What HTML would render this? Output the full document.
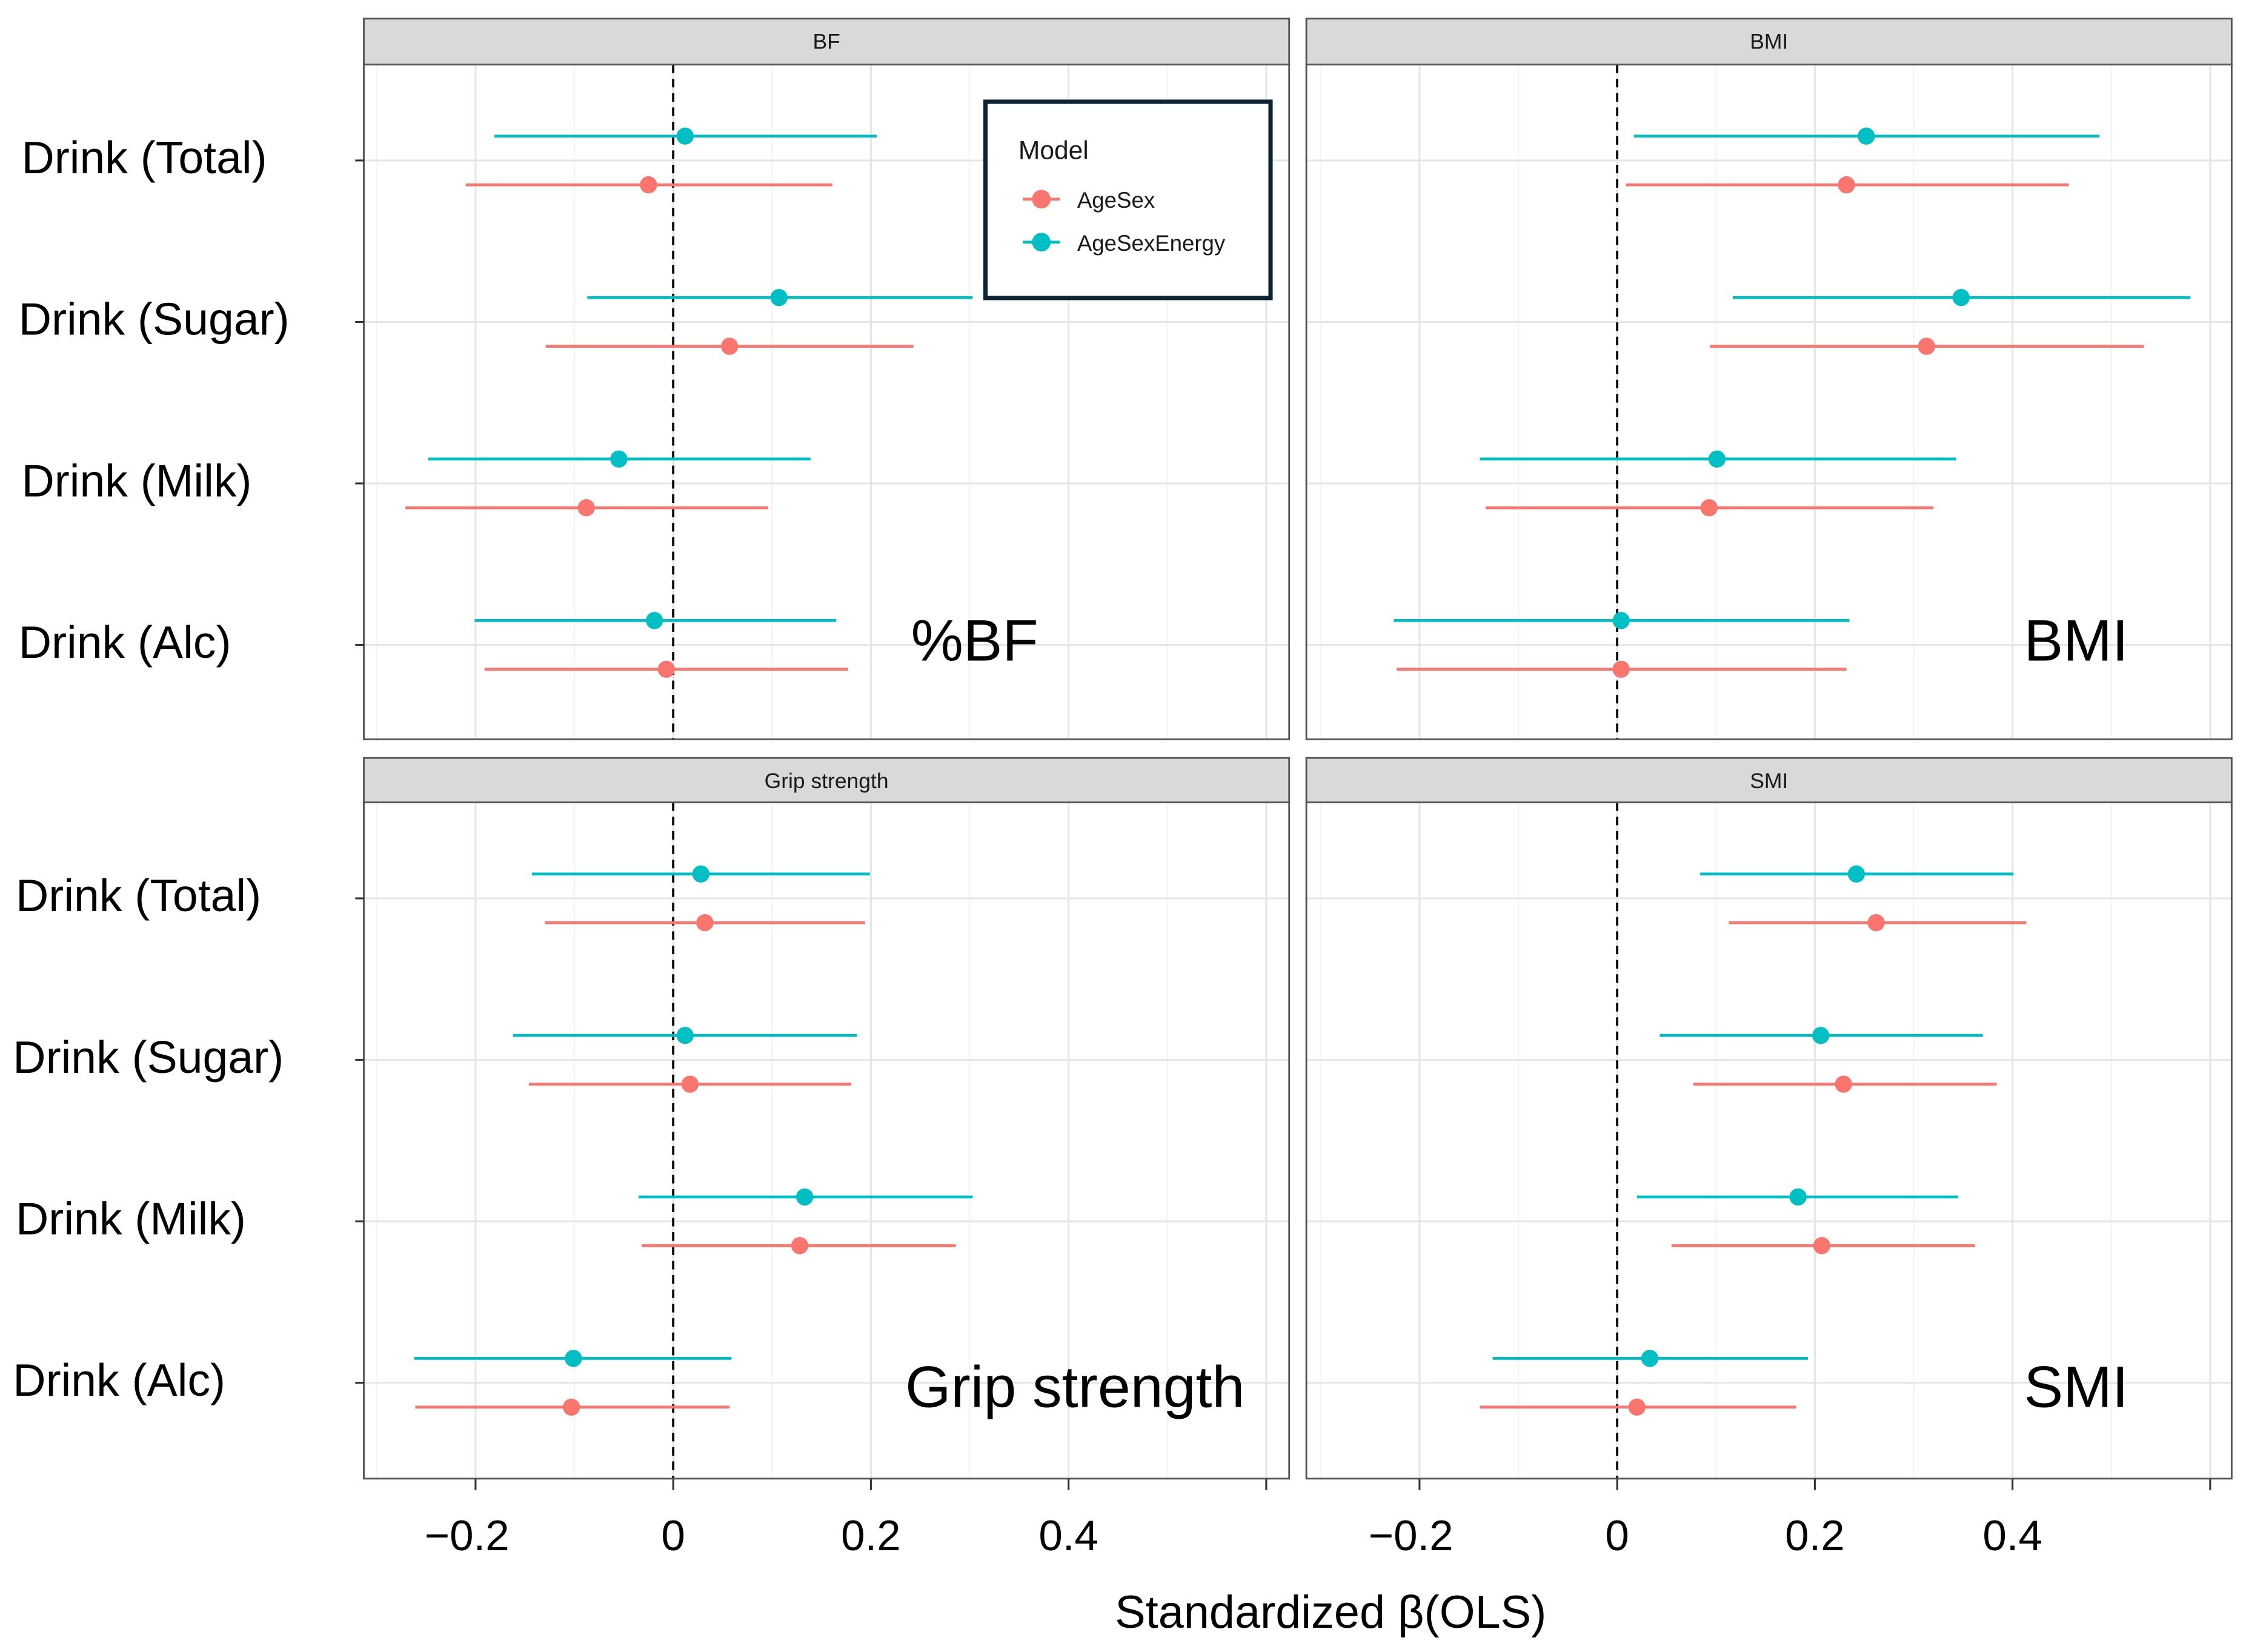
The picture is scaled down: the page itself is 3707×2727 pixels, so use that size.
<!DOCTYPE html>
<html><head><meta charset="utf-8">
<style>
html,body{margin:0;padding:0;background:#fff;}
svg{display:block;font-family:"Liberation Sans",Arial,sans-serif;}
</style></head>
<body>
<svg id="chart" width="3707" height="2727" viewBox="0 0 1568 1153" preserveAspectRatio="none" xmlns="http://www.w3.org/2000/svg">
<g id="root"></g>
</svg>
<script>
const categories = ["Drink (Total)","Drink (Sugar)","Drink (Milk)","Drink (Alc)"];
const panelNames = ["BF","BMI","Grip strength","SMI"];
const panelLabels = ["%BF","BMI","Grip strength","SMI"];
const models = ["AgeSex","AgeSexEnergy"];
const xTicks = [-0.2,0,0.2,0.4];
const xTickLabels = ["\u22120.2","0","0.2","0.4"];
// estimates per panel: [category][model: 0=AgeSex, 1=AgeSexEnergy]
const bfEst = [[-0.025,0.012],[0.057,0.107],[-0.088,-0.055],[-0.007,-0.019]];
const bfLo  = [[-0.210,-0.181],[-0.129,-0.087],[-0.271,-0.248],[-0.191,-0.201]];
const bfHi  = [[0.161,0.206],[0.243,0.303],[0.096,0.139],[0.177,0.165]];
const bmiEst = [[0.232,0.252],[0.313,0.348],[0.093,0.101],[0.004,0.004]];
const bmiLo  = [[0.009,0.017],[0.094,0.117],[-0.133,-0.139],[-0.223,-0.226]];
const bmiHi  = [[0.457,0.488],[0.533,0.580],[0.320,0.343],[0.232,0.235]];
const gripEst = [[0.032,0.028],[0.017,0.012],[0.128,0.133],[-0.103,-0.101]];
const gripLo  = [[-0.130,-0.143],[-0.146,-0.162],[-0.032,-0.035],[-0.261,-0.262]];
const gripHi  = [[0.194,0.199],[0.180,0.186],[0.286,0.303],[0.057,0.059]];
const smiEst = [[0.262,0.242],[0.229,0.206],[0.207,0.183],[0.020,0.033]];
const smiLo  = [[0.113,0.084],[0.077,0.043],[0.055,0.020],[-0.139,-0.126]];
const smiHi  = [[0.414,0.401],[0.384,0.370],[0.362,0.345],[0.181,0.193]];

const est=[bfEst,bmiEst,gripEst,smiEst], lo=[bfLo,bmiLo,gripLo,smiLo], hi=[bfHi,bmiHi,gripHi,smiHi];
const colors=["#F8766D","#00BFC4"];
const NS="http://www.w3.org/2000/svg";
const root=document.getElementById('root');
function mk(tag,attrs,parent,text){const e=document.createElementNS(NS,tag);for(const k in attrs)e.setAttribute(k,attrs[k]);if(text!==undefined)e.textContent=text;(parent||root).appendChild(e);return e;}

const panels=[{x0:254,x1:900,sy:13,y0:45,y1:516,zero:470},{x0:912,x1:1558,sy:13,y0:45,y1:516,zero:1129},
{x0:254,x1:900,sy:529,y0:560,y1:1032,zero:470},{x0:912,x1:1558,sy:529,y0:560,y1:1032,zero:1129}];
const pxPerUnit=690;
const rowStart=[112,627], rowStep=112.7;

panels.forEach((p,pi)=>{
  const g=mk('g',{});
  
  
  const xs=v=>p.zero+v*pxPerUnit;
  const ys=i=>rowStart[pi<2?0:1]+i*rowStep;
  mk('rect',{x:p.x0,y:p.y0,width:p.x1-p.x0,height:p.y1-p.y0,fill:'#fff'},g);
  for(let v=-0.3;v<=0.61;v+=0.2){const x=xs(v);if(x>p.x0&&x<p.x1)mk('line',{x1:x,x2:x,y1:p.y0,y2:p.y1,stroke:'#f2f2f2','stroke-width':0.8},g);}
  for(let v=-0.2;v<=0.61;v+=0.2){const x=xs(v);if(x>p.x0&&x<p.x1)mk('line',{x1:x,x2:x,y1:p.y0,y2:p.y1,stroke:'#e6e6e6','stroke-width':1.3},g);}
  categories.forEach((c,i)=>{mk('line',{x1:p.x0,x2:p.x1,y1:ys(i),y2:ys(i),stroke:'#e6e6e6','stroke-width':1.3},g);});
  const zl=mk('line',{x1:xs(0),x2:xs(0),y1:p.y0,y2:p.y1,stroke:'#000','stroke-width':1.6,'stroke-dasharray':'6 4'},g);
  
  
  categories.forEach((c,i)=>{
    models.forEach((m,mi)=>{
      const y=ys(i)+(mi===0?17:-17);
      const l=mk('line',{x1:xs(lo[pi][i][mi]),x2:xs(hi[pi][i][mi]),y1:y,y2:y,stroke:colors[mi],'stroke-width':2},g);
      
      
      const d=mk('circle',{cx:xs(est[pi][i][mi]),cy:y,r:6,fill:colors[mi]},g);
      
      
    });
  });
  mk('rect',{x:p.x0,y:p.y0,width:p.x1-p.x0,height:p.y1-p.y0,fill:'none',stroke:'#555','stroke-width':1.2},g);
  const st=mk('rect',{x:p.x0,y:p.sy,width:p.x1-p.x0,height:p.y0-p.sy,fill:'#d9d9d9',stroke:'#555','stroke-width':1.2},g);
  
  
  const stt=mk('text',{x:(p.x0+p.x1)/2,y:p.sy+21,'font-size':15,'text-anchor':'middle',fill:'#1a1a1a'},g,panelNames[pi]);
  
  
  const ann=mk('text',{x:pi%2===0?(pi===0?636:632):1413,y:pi<2?461:982,'font-size':41,fill:'#000'},g,panelLabels[pi]);
  
  
  if(pi%2===0){
    const lx=pi===0?[15,13,15,13]:[11,9,11,9];
    categories.forEach((c,i)=>{
      mk('line',{x1:p.x0-6,x2:p.x0,y1:ys(i),y2:ys(i),stroke:'#333','stroke-width':1.3},g);
      const t=mk('text',{x:lx[i],y:ys(i)+9,'font-size':31.8,fill:'#000'},g,c);
      
      
    });
  }
  if(pi>=2){
    [-0.2,0,0.2,0.4,0.6].forEach(v=>{mk('line',{x1:xs(v),x2:xs(v),y1:p.y1,y2:p.y1+8,stroke:'#333','stroke-width':1.3},g);});
    xTicks.forEach((v,k)=>{
      const t=mk('text',{x:xs(v)+(v<0?-6:0),y:p.y1+50,'font-size':30,'text-anchor':'middle',fill:'#000'},g,xTickLabels[k]);
      
      
    });
  }
});
const at=mk('text',{x:929,y:1136,'font-size':32,'text-anchor':'middle',fill:'#000'},root,"Standardized \u03b2(OLS)");


const lg=mk('g',{});


mk('rect',{x:688,y:71,width:199,height:137,fill:'#fff',stroke:'#0d2233','stroke-width':3},lg);
mk('text',{x:711,y:111,'font-size':18,fill:'#1a1a1a'},lg,'Model');
models.forEach((m,mi)=>{
  const y=139+mi*30;
  const e=mk('g',{},lg);
  
  
  mk('line',{x1:714,x2:740,y1:y,y2:y,stroke:colors[mi],'stroke-width':2},e);
  mk('circle',{cx:727,cy:y,r:6.5,fill:colors[mi]},e);
  mk('text',{x:752,y:y+6,'font-size':15.5,fill:'#1a1a1a'},e,m);
});
</script>
</body></html>
